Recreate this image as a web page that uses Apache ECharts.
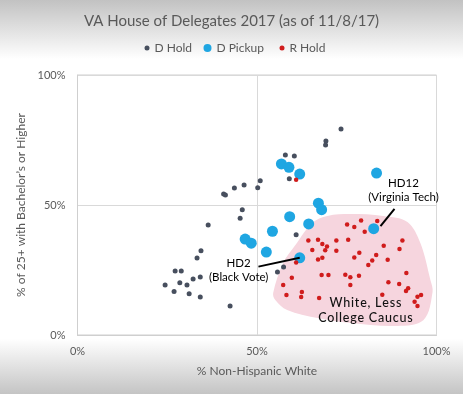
<!DOCTYPE html>
<html>
<head>
<meta charset="utf-8">
<script src="https://cdn.jsdelivr.net/npm/echarts@6/dist/echarts.min.js"></script>
<style>html,body{margin:0;padding:0;}#c{width:463px;height:394px;}</style>
</head>
<body>
<div id="c"></div>
<script>
// ---- Data (x = % Non-Hispanic White, y = % of 25+ with Bachelor's or Higher) ----
const dHold = [
  [73.4,79.2],[69.2,74.6],[69.1,73.1],[57.9,69.2],[60.4,68.8],[59.0,60.1],[50.9,59.3],
  [50.2,56.6],[46.4,57.7],[43.7,56.5],[40.7,54.2],[41.2,53.8],[45.9,48.2],[45.3,44.9],
  [36.4,42.3],[34.4,32.4],[33.3,29.6],[27.2,24.6],[28.9,24.6],[34.2,22.3],[32.2,21.5],
  [28.5,20.1],[24.4,19.2],[30.5,19.2],[26.9,16.7],[31.1,15.9],[34.2,14.6],[42.5,11.2],
  [60.9,38.6],[57.4,26.2],[55.7,24.2]
];
const dPickup = [
  [56.8,65.8],[58.9,64.5],[61.9,61.9],[83.3,62.3],[67.1,50.7],[68.0,48.2],[59.1,45.5],
  [64.4,42.7],[54.3,39.9],[46.7,36.9],[48.4,35.3],[52.6,31.9],[61.9,29.7],[82.5,40.9]
];
const rHold = [
  [60.9,59.7],[75.1,42.5],[77.1,41.5],[79.0,44.0],[80.0,39.7],[83.5,43.8],[64.3,36.3],
  [67.0,36.6],[68.2,35.0],[69.5,34.0],[69.0,32.6],[72.1,36.3],[75.4,36.6],[65.4,32.7],
  [72.1,32.4],[78.5,31.6],[83.2,30.8],[85.3,34.3],[90.5,36.3],[89.7,33.1],[68.2,29.7],
  [67.0,29.0],[60.9,27.9],[77.1,29.8],[82.1,28.7],[81.0,26.9],[86.4,28.9],[59.7,22.0],
  [57.3,19.2],[62.5,16.5],[58.2,15.4],[62.3,14.6],[67.3,14.2],[68.0,23.1],[69.9,23.1],
  [74.6,23.2],[76.0,22.2],[78.4,22.8],[76.0,19.2],[86.6,20.3],[89.6,19.6],[91.6,23.8],
  [92.1,18.0],[91.5,16.9],[84.9,15.5],[94.7,14.7],[95.7,15.4],[93.9,12.8],[94.7,11.2]
];
// Caucus region outline (data units)
const caucusOutline = [
  [54.5,16.2],[57.3,27.7],[60.7,34.6],[65.4,43.1],[69.6,45.8],[76.0,46.5],[85.2,45.8],
  [91.9,43.5],[95.5,35.4],[98.3,21.2],[98.9,16.5],[96.4,5.8],[89.1,3.5],[76.0,4.6],
  [66.8,6.5],[58.4,9.6],[55.1,13.5]
];
const caucusLines = ['White, Less', 'College Caucus'];
const caucusPos = [80.2, 9.6];
// Callouts: label position, line start, line end (data units)
const callouts = [
  {text:'HD12\n(Virginia Tech)', pos:[90.8,55.8], from:[88.3,48.5], to:[84.4,41.9]},
  {text:'HD2\n(Black Vote)', pos:[44.9,24.8], from:[50.4,26.3], to:[61.9,29.7]}
];
const xTicks = [0,50,100];
const yTicks = [0,50,100];

const FONT = 'Lato, "Open Sans", sans-serif';
const GREY = '#595959';
// spread letters with hair spaces (letter-spacing imitation)
const spread = s => s.split(' ').map(w => w.split('').join('\u200A')).join('\u2009 ');

const chart = echarts.init(document.getElementById('c'), null, {renderer:'canvas'});
const legendBase = {
  top: 41, icon: 'circle', orient: 'horizontal', padding: 0,
  textStyle: {color: GREY, fontSize: 12, fontFamily: FONT, lineHeight: 14}
};
chart.setOption({
  animation: false,
  backgroundColor: {type:'linear', x:0, y:0, x2:0, y2:1, colorStops:[
    {offset:0, color:'#c2c2c2'}, {offset:0.15, color:'#ffffff'},
    {offset:0.86, color:'#ffffff'}, {offset:1, color:'#c4c4c4'}]},
  title: {
    text: 'VA House of Delegates 2017 (as of 11/8/17)',
    left: 'center', top: 9,
    textStyle: {color: GREY, fontSize: 15, fontWeight: 'normal', fontFamily: FONT}
  },
  legend: [
    Object.assign({}, legendBase, {data:['D Hold'], left: 144.5, itemWidth:5, itemHeight:5}),
    Object.assign({}, legendBase, {data:['D Pickup'], left: 203.5, itemWidth:8, itemHeight:8}),
    Object.assign({}, legendBase, {data:['R Hold'], left: 279.5, itemWidth:5, itemHeight:5})
  ],
  grid: {left: 77.5, right: 26.5, top: 75, bottom: 59, show: true,
    backgroundColor: '#ffffff', borderColor: '#cfcfcf', borderWidth: 1},
  xAxis: {
    type: 'value', min: 0, max: 100, interval: 50,
    name: '% Non-Hispanic White', nameLocation: 'middle', nameGap: 30,
    nameTextStyle: {color: GREY, fontSize: 12, fontFamily: FONT},
    axisLine: {show: true, lineStyle: {color: '#cfcfcf'}},
    axisTick: {show: false},
    axisLabel: {color: GREY, fontSize: 11, fontFamily: FONT, margin: 11,
      formatter: v => xTicks.includes(v) ? v + '%' : ''},
    splitLine: {show: true, lineStyle: {color: '#d9d9d9'}}
  },
  yAxis: {
    type: 'value', min: 0, max: 100, interval: 50,
    name: '% of 25+ with Bachelor\u2019s or Higher', nameLocation: 'middle', nameGap: 44,
    nameTextStyle: {color: GREY, fontSize: 12, fontFamily: FONT},
    axisLine: {show: true, lineStyle: {color: '#cfcfcf'}},
    axisTick: {show: false},
    axisLabel: {color: GREY, fontSize: 11, fontFamily: FONT, margin: 12,
      formatter: v => yTicks.includes(v) ? v + '%' : ''},
    splitLine: {show: true, lineStyle: {color: '#d9d9d9'}}
  },
  series: [
    {
      type: 'custom', name: 'caucus', silent: true, z: 1,
      data: [[0,0]],
      renderItem: (params, api) => {
        const pts = caucusOutline.map(p => api.coord(p));
        const c = api.coord(caucusPos);
        return {type:'group', children:[
          {type:'polygon', shape:{points: pts, smooth: 0.35}, style:{fill:'#f6d5de'}},
          {type:'text', x:c[0], y:c[1], z2: 10, style:{text: caucusLines.map(spread).join('\n'), fill:'#111',
            font: '500 12.5px Lato, sans-serif', align:'center', verticalAlign:'middle', lineHeight: 15}}
        ]};
      }
    },
    {type:'scatter', name:'D Hold', data: dHold, symbolSize: 5, z: 3,
      itemStyle:{color:'#474f5e', opacity:1}},
    {type:'scatter', name:'D Pickup', data: dPickup, symbolSize: 11, z: 4,
      itemStyle:{color:'#1fa6e2', opacity:1}},
    {type:'scatter', name:'R Hold', data: rHold, symbolSize: 4.5, z: 5,
      itemStyle:{color:'#d01c1c', opacity:1}},
    {
      type: 'custom', name: 'callouts', silent: true, z: 6,
      data: callouts.map((c, i) => [i, 0]),
      renderItem: (params, api) => {
        const c = callouts[params.dataIndex];
        const a = api.coord(c.from), b = api.coord(c.to), p = api.coord(c.pos);
        return {type:'group', children:[
          {type:'line', shape:{x1:a[0], y1:a[1], x2:b[0], y2:b[1]}, style:{stroke:'#000', lineWidth:2}},
          {type:'text', x:p[0], y:p[1], style:{text:c.text, fill:'#000',
            font: '11.5px ' + FONT, align:'center', verticalAlign:'middle', lineHeight: 14}}
        ]};
      }
    }
  ]
});
</script>
</body>
</html>
